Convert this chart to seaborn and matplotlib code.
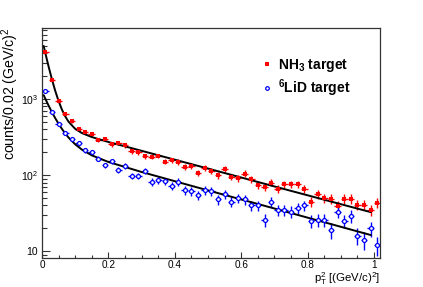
import numpy as np
import pandas as pd
import matplotlib
matplotlib.use("Agg")
import matplotlib.pyplot as plt
from matplotlib.lines import Line2D
from matplotlib.ticker import FixedLocator, FixedFormatter, MultipleLocator, NullFormatter
import seaborn as sns

# bin centres (bin width 0.02)
pt2 = [0.01 + 0.02 * i for i in range(51)]

nh3_counts = [4180, 1763, 942, 635, 513, 403, 368, 343, 288, 298,
              253, 268, 246, 205, 199, 178, 174, 179, 151, 158,
              150, 129, 131, 107, 124, 114, 100, 122, 95, 91,
              105, 89, 74, 70, 80, 66, 76, 76, 76, 66,
              45, 56, 50, 49, 39, 49, 49, 41, 41, 35, 43]

lid_counts = [1274, 668, 473, 361, 298, 261, 213, 203, 164, 134,
              153, 117, 131, 98, 98, 114, 82, 86, 83, 72,
              82, 63, 61, 55, 63, 61, 48, 56, 45, 50,
              48, 40, 40, 26, 45, 35, 35, 33, 37, 40,
              25, 26, 26, 19, 33, 25, 29, 16, 14, 20, 12]

# fit curves
fit_x = [0.005, 0.01, 0.02, 0.03, 0.04, 0.05, 0.06, 0.07, 0.08, 0.10,
         0.12, 0.15, 0.20, 0.30, 0.50, 0.70, 0.99]
nh3_fit = [5000, 4034, 2666, 1812, 1278, 941, 728, 593, 504, 406,
           358, 317, 273, 209, 122, 71, 32.6]
lid_fit = [1128, 1011, 819, 672, 560, 473, 406, 353, 312, 254,
           217, 182, 149, 110, 63, 36.4, 16.3]

y_ticks = [10, 100, 1000]
y_tick_labels = ["10", "10$^2$", "10$^3$"]
x_ticks = [0, 0.2, 0.4, 0.6, 0.8, 1.0]
x_tick_labels = ["0", "0.2", "0.4", "0.6", "0.8", "1"]
labels = ["NH$_\\mathbf{3}$ target", "$^\\mathbf{6}$LiD target"]

sns.set_style("ticks")
plt.rcParams["font.family"] = ["Liberation Sans", "DejaVu Sans"]
plt.rcParams["mathtext.fontset"] = "custom"
plt.rcParams["mathtext.rm"] = "Liberation Sans"
plt.rcParams["mathtext.it"] = "Liberation Sans:italic"
plt.rcParams["mathtext.bf"] = "Liberation Sans:bold"
plt.rcParams["text.color"] = "black"
plt.rcParams["axes.labelcolor"] = "black"
plt.rcParams["xtick.color"] = "black"
plt.rcParams["ytick.color"] = "black"

df = pd.DataFrame({"pt2": pt2, "nh3": nh3_counts, "lid": lid_counts})
fits = pd.DataFrame({"x": fit_x, "nh3": nh3_fit, "lid": lid_fit})

fig = plt.figure(figsize=(4.23, 2.87), dpi=100)
ax = fig.add_axes([0.0993, 0.102, 0.7992, 0.8002])

red = "#ff0000"
blue = "#0000ff"

ax.errorbar(df["pt2"], df["nh3"], yerr=np.sqrt(df["nh3"]), xerr=0.01,
            fmt="none", ecolor=red, elinewidth=1.0, capsize=0, zorder=2)
ax.errorbar(df["pt2"], df["lid"], yerr=np.sqrt(df["lid"]), xerr=0.01,
            fmt="none", ecolor=blue, elinewidth=1.0, capsize=0, zorder=2)

sns.lineplot(data=fits, x="x", y="nh3", color="black", linewidth=1.4, ax=ax, zorder=3)
sns.lineplot(data=fits, x="x", y="lid", color="black", linewidth=1.4, ax=ax, zorder=3)

sns.scatterplot(data=df, x="pt2", y="nh3", marker="s", s=10, color=red,
                linewidth=0, ax=ax, zorder=4)
sns.scatterplot(data=df, x="pt2", y="lid", marker="o", s=8, facecolor="white",
                edgecolor=blue, linewidth=0.9, ax=ax, zorder=4)

ax.set_yscale("log")
ax.set_xlim(0, 1.018)
ax.set_ylim(8.2, 8600)

ax.xaxis.set_major_locator(FixedLocator(x_ticks))
ax.xaxis.set_major_formatter(FixedFormatter(x_tick_labels))
ax.xaxis.set_minor_locator(MultipleLocator(0.05))
ax.yaxis.set_major_locator(FixedLocator(y_ticks))
ax.yaxis.set_major_formatter(FixedFormatter(y_tick_labels))
ax.yaxis.set_minor_formatter(NullFormatter())

ax.tick_params(axis="both", which="both", direction="in", labelsize=7.5,
               width=0.8, color="#333333", top=False, right=False)
ax.tick_params(axis="x", which="major", length=4.5, pad=1.5, labelsize=7.2)
ax.tick_params(axis="x", which="minor", length=2.3)
ax.tick_params(axis="y", which="major", length=5.8, pad=3)
ax.tick_params(axis="y", which="minor", length=3.6)
for sp in ax.spines.values():
    sp.set_linewidth(0.9)
    sp.set_color("#333333")

ax.set_xlabel("p$_\\mathrm{T}^2$ [(GeV/c)$^2$]", fontsize=8.2, loc="right", va="top")
ax.xaxis.set_label_coords(1.0, -0.054)
ax.set_ylabel("counts/0.02 (GeV/c)$^2$", fontsize=10.2, loc="top")
ax.yaxis.set_label_coords(-0.062, 1.005)

handles = [Line2D([], [], marker="s", ms=2.4, color=red, ls="none", mew=0),
           Line2D([], [], marker="o", ms=2.6, mfc="white", mec=blue, mew=0.9, ls="none")]
ax.legend(handles, labels, loc="upper left", bbox_to_anchor=(0.612, 0.93),
          frameon=False, handlelength=0.8, handletextpad=0.4, labelspacing=0.25,
          prop={"weight": "bold", "size": 10})

fig.savefig("out.png", dpi=100)
